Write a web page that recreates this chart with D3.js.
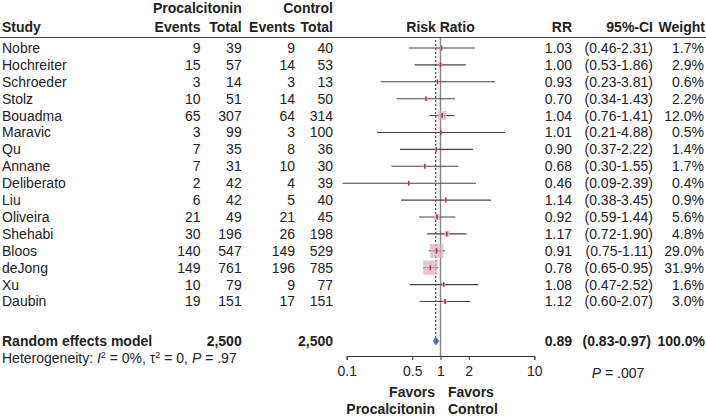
<!DOCTYPE html>
<html><head><meta charset="utf-8">
<script src="https://cdn.jsdelivr.net/npm/d3@7"></script>
<style>
body{margin:0;background:#fff;}
svg{font-family:"Liberation Sans",Arial,Helvetica,sans-serif;}
</style></head>
<body><svg id="c" width="706" height="416"></svg>
<script>
const studies = ["Nobre","Hochreiter","Schroeder","Stolz","Bouadma","Maravic","Qu","Annane","Deliberato","Liu","Oliveira","Shehabi","Bloos","deJong","Xu","Daubin"];
const pctEvents = [9,15,3,10,65,3,7,7,2,6,21,30,140,149,10,19];
const pctTotal = [39,57,14,51,307,99,35,31,42,42,49,196,547,761,79,151];
const ctlEvents = [9,14,3,14,64,3,8,10,4,5,21,26,149,196,9,17];
const ctlTotal = [40,53,13,50,314,100,36,30,39,40,45,198,529,785,77,151];
const rr = [1.03,1.00,0.93,0.70,1.04,1.01,0.90,0.68,0.46,1.14,0.92,1.17,0.91,0.78,1.08,1.12];
const lower = [0.46,0.53,0.23,0.34,0.76,0.21,0.37,0.30,0.09,0.38,0.59,0.72,0.75,0.65,0.47,0.60];
const upper = [2.31,1.86,3.81,1.43,1.41,4.88,2.22,1.55,2.39,3.45,1.44,1.90,1.11,0.95,2.52,2.07];
const weight = [1.7,2.9,0.6,2.2,12.0,0.5,1.4,1.7,0.4,0.9,5.6,4.8,29.0,31.9,1.6,3.0];
const pooled = {rr:0.89, lower:0.83, upper:0.97, weight:100.0, totalP:"2,500", totalC:"2,500"};
const axisTicks = [0.1,0.5,1,2,10];

const svg = d3.select("#c");
const ink = "#222";
const fs = 14;
const x = d3.scaleLog().domain([0.1,10]).range([346.7,534.3]);
const rowY = d3.scaleLinear().domain([0,1]).range([48,64.9]);
const fmt2 = d3.format(".2f");

function txt(xp, yp, s, anchor, bold){
  return svg.append("text").attr("x",xp).attr("y",yp).attr("dy","0.35em")
    .attr("text-anchor",anchor||"start").attr("font-size",fs).attr("fill",ink)
    .attr("font-weight",bold?"bold":"normal").text(s);
}
// headers
txt(241.7,8,"Procalcitonin","end",true);
txt(333,8,"Control","end",true);
txt(2,27,"Study","start",true);
txt(200.5,27,"Events","end",true);
txt(241.7,27,"Total","end",true);
txt(295,27,"Events","end",true);
txt(333,27,"Total","end",true);
txt(440.5,27,"Risk Ratio","middle",true);
txt(572,27,"RR","end",true);
txt(653,27,"95%-CI","end",true);
txt(705,27,"Weight","end",true);
svg.append("line").attr("x1",0).attr("x2",706).attr("y1",37.5).attr("y2",37.5).attr("stroke","#444").attr("stroke-width",1);

// reference lines
svg.append("line").attr("x1",x(1)).attr("x2",x(1)).attr("y1",38).attr("y2",356).attr("stroke","#888").attr("stroke-width",1.5);
svg.append("line").attr("x1",x(pooled.rr)).attr("x2",x(pooled.rr)).attr("y1",40).attr("y2",337).attr("stroke","#222").attr("stroke-width",1).attr("stroke-dasharray","2,2");

// rows
studies.forEach((s,i)=>{
  const y = rowY(i);
  txt(2,y,s,"start");
  txt(200.5,y,pctEvents[i],"end");
  txt(241.7,y,pctTotal[i],"end");
  txt(295,y,ctlEvents[i],"end");
  txt(333,y,ctlTotal[i],"end");
  txt(572,y,fmt2(rr[i]),"end");
  txt(653,y,"("+fmt2(lower[i])+"-"+fmt2(upper[i])+")","end");
  txt(704,y,weight[i].toFixed(1)+"%","end");
  svg.append("line").attr("x1",x(lower[i])).attr("x2",x(upper[i])).attr("y1",y).attr("y2",y).attr("stroke","#444").attr("stroke-width",1.1);
  const side = 2.53*Math.sqrt(weight[i]);
  svg.append("rect").attr("x",x(rr[i])-side/2).attr("y",y-side/2).attr("width",side).attr("height",side).attr("fill","#dcb3c0").attr("opacity",0.75);
  svg.append("line").attr("x1",x(rr[i])).attr("x2",x(rr[i])).attr("y1",y-2.5).attr("y2",y+2.5).attr("stroke","#b0305a").attr("stroke-width",1.5);
});

// pooled
const yP = 341;
txt(2,yP,"Random effects model","start",true);
txt(241.7,yP,pooled.totalP,"end",true);
txt(333,yP,pooled.totalC,"end",true);
txt(572,yP,fmt2(pooled.rr),"end",true);
txt(651,yP,"("+fmt2(pooled.lower)+"-"+fmt2(pooled.upper)+")","end",true);
txt(705,yP,pooled.weight.toFixed(1)+"%","end",true);
const dh = 4.5;
svg.append("path").attr("d",`M${x(pooled.lower)},${yP}L${x(pooled.rr)},${yP-dh}L${x(pooled.upper)},${yP}L${x(pooled.rr)},${yP+dh}Z`).attr("fill","#4f6fa3");

// heterogeneity
const yH = 358;
const ht = svg.append("text").attr("x",2).attr("y",yH).attr("dy","0.35em").attr("font-size",fs).attr("fill",ink);
ht.append("tspan").text("Heterogeneity: ");
ht.append("tspan").attr("font-style","italic").text("I");
ht.append("tspan").attr("font-size",9).attr("dy","-5").text("2");
ht.append("tspan").attr("dy","5").text(" = 0%, τ");
ht.append("tspan").attr("font-size",9).attr("dy","-5").text("2");
ht.append("tspan").attr("dy","5").text(" = 0, ");
ht.append("tspan").attr("font-style","italic").text("P");
ht.append("tspan").text(" = .97");

// axis
const ax = svg.append("g").attr("transform","translate(0,356)")
  .call(d3.axisBottom(x).tickValues(axisTicks).tickFormat(d3.format("")).tickSize(4).tickSizeOuter(4).tickPadding(6));
ax.selectAll("text").attr("font-size",fs).attr("fill",ink).attr("font-family","Liberation Sans, Arial, sans-serif");
ax.selectAll("line,path").attr("stroke","#333");

const pt = svg.append("text").attr("x",618).attr("y",373).attr("dy","0.35em").attr("text-anchor","middle").attr("font-size",fs).attr("fill",ink);
pt.append("tspan").attr("font-style","italic").text("P");
pt.append("tspan").text(" = .007");

txt(435,392,"Favors","end",true);
txt(435,409,"Procalcitonin","end",true);
txt(448,392,"Favors","start",true);
txt(448,409,"Control","start",true);
</script></body></html>
